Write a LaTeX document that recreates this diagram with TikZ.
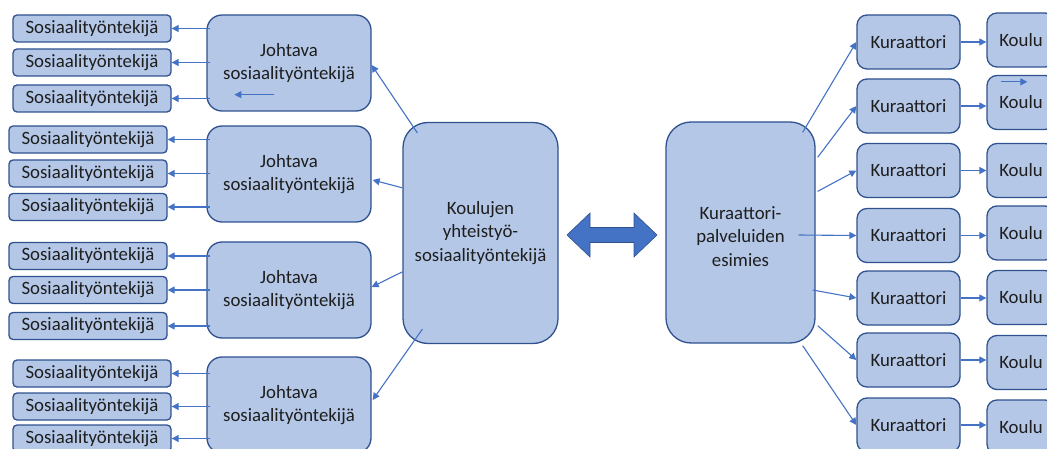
\documentclass[tikz,border=0pt]{standalone}
\usepackage{fontspec}
\setmainfont{Carlito}
\usetikzlibrary{arrows.meta,calc}
\definecolor{boxfill}{RGB}{180,199,231}
\definecolor{boxline}{RGB}{47,82,143}
\definecolor{arrowc}{RGB}{68,114,196}
\definecolor{txt}{RGB}{30,30,30}
\begin{document}
\begin{tikzpicture}[x=1pt,y=-1pt,
  every node/.style={font=\fontsize{18.8}{23.5}\selectfont, text=txt},
  bx/.style={draw=boxline, fill=boxfill, line width=1.3pt, inner sep=0pt, align=center},
  sw/.style={bx, rounded corners=4pt, minimum width=158pt, minimum height=27pt},
  jb/.style={bx, rounded corners=15pt, minimum width=164pt, minimum height=96pt},
  big/.style={bx, rounded corners=25pt, minimum width=155pt, minimum height=221pt},
  kb/.style={bx, rounded corners=10pt, minimum width=103pt, minimum height=54pt},
  ko/.style={bx, rounded corners=10pt, minimum width=68pt, minimum height=54pt},
  arr/.style={draw=arrowc, line width=1.1pt, -{Triangle[length=7pt,width=7pt]}}
]
\useasboundingbox (0,0) rectangle (1047,449);
\clip (0,0) rectangle (1047,449);

% left small boxes
\node[sw] (s11) at (92,28.5) {Sosiaalityöntekijä};
\node[sw] (s12) at (92,62.5) {Sosiaalityöntekijä};
\node[sw] (s13) at (92,98.5) {Sosiaalityöntekijä};
\node[sw] (s21) at (88,139.5) {Sosiaalityöntekijä};
\node[sw] (s22) at (88,173.5) {Sosiaalityöntekijä};
\node[sw] (s23) at (88,207) {Sosiaalityöntekijä};
\node[sw] (s31) at (88,256) {Sosiaalityöntekijä};
\node[sw] (s32) at (88,290) {Sosiaalityöntekijä};
\node[sw] (s33) at (88,326) {Sosiaalityöntekijä};
\node[sw] (s41) at (92,373.5) {Sosiaalityöntekijä};
\node[sw] (s42) at (92,406.5) {Sosiaalityöntekijä};
\node[sw] (s43) at (92,438.5) {Sosiaalityöntekijä};

% Johtava boxes
\node[jb] (j1) at (289,63) {Johtava\\sosiaalityöntekijä};
\node[jb] (j2) at (289,174) {Johtava\\sosiaalityöntekijä};
\node[jb] (j3) at (289,290) {Johtava\\sosiaalityöntekijä};
\node[jb] (j4) at (289,405) {Johtava\\sosiaalityöntekijä};

% big boxes
\node[big] (k) at (480.5,233) {Koulujen\\yhteistyö-\\sosiaalityöntekijä};
\node[big, minimum width=149pt] (e) at (740.5,232.5) {};
\node[align=center] (et) at ($(e.center)+(0,4)$) {Kuraattori-\\palveluiden\\esimies};

% Kuraattori boxes
\node[kb] (q1) at (908.5,42) {Kuraattori};
\node[kb] (q2) at (908.5,106) {Kuraattori};
\node[kb] (q3) at (908.5,170.5) {Kuraattori};
\node[kb] (q4) at (908.5,235.5) {Kuraattori};
\node[kb] (q5) at (908.5,298) {Kuraattori};
\node[kb] (q6) at (908.5,360) {Kuraattori};
\node[kb] (q7) at (908.5,425) {Kuraattori};

% Koulu boxes
\node[ko] (o1) at (1021,40) {Koulu};
\node[ko] (o2) at (1021,102.5) {Koulu};
\node[ko] (o3) at (1021,170.5) {Koulu};
\node[ko] (o4) at (1021,233) {Koulu};
\node[ko] (o5) at (1021,297.5) {Koulu};
\node[ko] (o6) at (1021,362.5) {Koulu};
\node[ko] (o7) at (1021,427) {Koulu};

% Johtava -> small boxes
\foreach \j/\a/\b/\c in {j1/s11/s12/s13, j2/s21/s22/s23, j3/s31/s32/s33, j4/s41/s42/s43}{
  \draw[arr] ($(\j.west |- \a.east)+(4,0)$) -- (\a.east);
  \draw[arr] ($(\j.west |- \b.east)+(4,0)$) -- (\b.east);
  \draw[arr] ($(\j.west |- \c.east)+(4,0)$) -- (\c.east);
}

% Koulujen -> Johtava
\draw[arr] ($(k.north west)+(15,11)$) -- ($(j1.east)+(0,2)$);
\draw[arr] ($(k.north west)+(0,66)$) -- ($(j2.east)+(1,6)$);
\draw[arr] ($(k.north west)+(0,150)$) -- ($(j3.east)+(0,-3)$);
\draw[arr] ($(k.south west)+(20,-15)$) -- ($(j4.east)+(1,-5)$);

% esimies -> Kuraattori
\draw[arr] ($(e.north east)+(-13,11)$) -- (q1.west);
\draw[arr] ($(e.north east)+(2,36)$) -- (q2.west);
\draw[arr] ($(e.north east)+(2,70)$) -- (q3.west);
\draw[arr] ($(e.east)+(-17,2.5)$) -- (q4.west);
\draw[arr] ($(e.east)+(-3,57.5)$) -- (q5.west);
\draw[arr] ($(e.south east)+(2,-18)$) -- (q6.west);
\draw[arr] ($(e.south east)+(-13,2)$) -- (q7.west);

% Kuraattori -> Koulu
\foreach \q/\o in {q1/o1,q2/o2,q3/o3,q4/o4,q5/o5,q6/o6,q7/o7}{
  \draw[arr] (\q.east) -- (\o.west |- \q.east);
}

% stray arrows
\coordinate (ja) at ($(j1.south west)+(68,-17)$);
\coordinate (jb) at ($(j1.south west)+(28,-17)$);
\draw[arr] (ja) -- (jb);
\coordinate (oa) at ($(o2.north west)+(15,7)$);
\coordinate (ob) at ($(o2.north west)+(41,7)$);
\draw[arr] (oa) -- (ob);

% double arrow
\fill[arrowc, draw=boxline, line width=0.6pt]
  (567,235) -- (590,213) -- (590,227.5) -- (634,227.5) -- (634,213) -- (657,235)
  -- (634,257) -- (634,242.5) -- (590,242.5) -- (590,257) -- cycle;
\end{tikzpicture}
\end{document}
